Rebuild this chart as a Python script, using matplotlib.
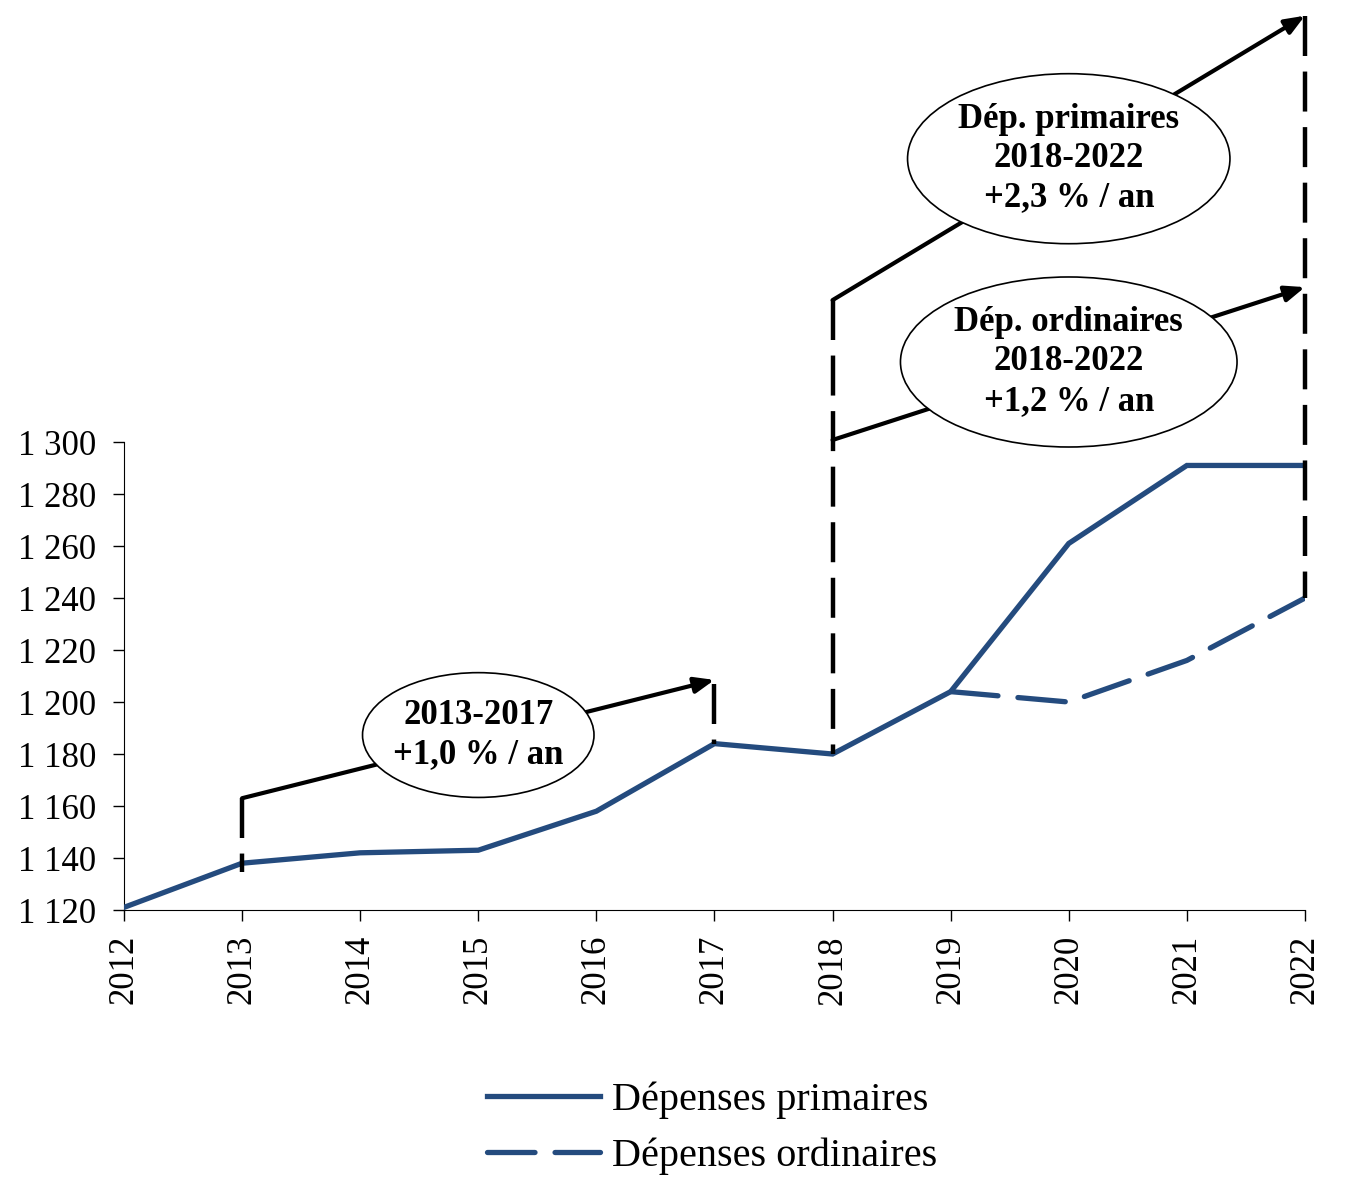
import matplotlib.pyplot as plt
from matplotlib.patches import Ellipse
from matplotlib.ticker import FuncFormatter

plt.rcParams['font.family'] = ['Liberation Serif', 'DejaVu Serif']

years = list(range(2012, 2023))
primaires = [1121, 1138, 1142, 1143, 1158, 1184, 1180, 1204, 1261, 1291, 1291]
ord_years = [2019, 2020, 2021, 2022]
ordinaires = [1204, 1200, 1216, 1240]

blue = '#244B7E'

fig = plt.figure(figsize=(13.46, 11.98), dpi=100)
ax = fig.add_axes([0.0921, 0.2404, 0.8774, 0.3906])

ax.plot(years, primaires, color=blue, lw=3.8, solid_joinstyle='miter',
        label='Dépenses primaires', zorder=3)
ax.plot(ord_years, ordinaires, color=blue, lw=3.8, dashes=(9, 3.8),
        dash_capstyle='round', label='Dépenses ordinaires', zorder=3)

ax.set_xlim(2012, 2022)
ax.set_ylim(1120, 1300)
ax.set_xticks(years)
ax.set_xticklabels([str(y) for y in years], rotation=90, fontsize=25)
ax.set_yticks(range(1120, 1301, 20))
ax.yaxis.set_major_formatter(FuncFormatter(lambda v, p: f"{int(v):,}".replace(',', ' ')))
ax.tick_params(axis='y', labelsize=25, length=8, width=1, pad=12)
ax.tick_params(axis='x', length=8, width=1, pad=10)
for s in ['top', 'right']:
    ax.spines[s].set_visible(False)

# annotations: dashed verticals, arrows and ellipses
dash_kw = dict(color='black', lw=3.2, dashes=(9, 3.5), clip_on=False, zorder=4)
ax.plot([2013, 2013], [1163, 1134.5], **dash_kw)
ax.plot([2017, 2017], [1207, 1184], **dash_kw)
ax.plot([2018, 2018], [1354.6, 1180], **dash_kw)
ax.plot([2022, 2022], [1464, 1240], **dash_kw)

arrow_kw = dict(arrowstyle='-|>,head_length=0.7,head_width=0.28', color='black',
                lw=3, shrinkA=0, shrinkB=0, mutation_scale=17)
arrows = [((2013, 1163), (2017, 1208.5)),
          ((2018, 1354.6), (2022, 1464)),
          ((2018, 1300.8), (2022, 1359.6))]
for start, end in arrows:
    ax.annotate('', xy=end, xytext=start, arrowprops=arrow_kw,
                annotation_clip=False, zorder=5)

ellipses = [((2015.0, 1187.3), 1.96, 48, '2013-2017\n+1,0 % / an'),
            ((2020.0, 1409.0), 2.73, 65.4, 'Dép. primaires\n2018-2022\n+2,3 % / an'),
            ((2020.0, 1330.8), 2.85, 65.4, 'Dép. ordinaires\n2018-2022\n+1,2 % / an')]
for (cx, cy), w, h, txt in ellipses:
    e = Ellipse((cx, cy), w, h, facecolor='white', edgecolor='black', lw=1.2,
                clip_on=False, zorder=6)
    ax.add_patch(e)
    ax.text(cx, cy, txt, ha='center', va='center', fontsize=25, fontweight='bold',
            linespacing=1.25, zorder=7, clip_on=False)

fig.legend(loc='center left', bbox_to_anchor=(0.362, 0.058), frameon=False,
           fontsize=29, handlelength=2.8, handletextpad=0.3, labelspacing=0.45,
           borderpad=0, borderaxespad=0)

fig.savefig('out.png', dpi=100)
